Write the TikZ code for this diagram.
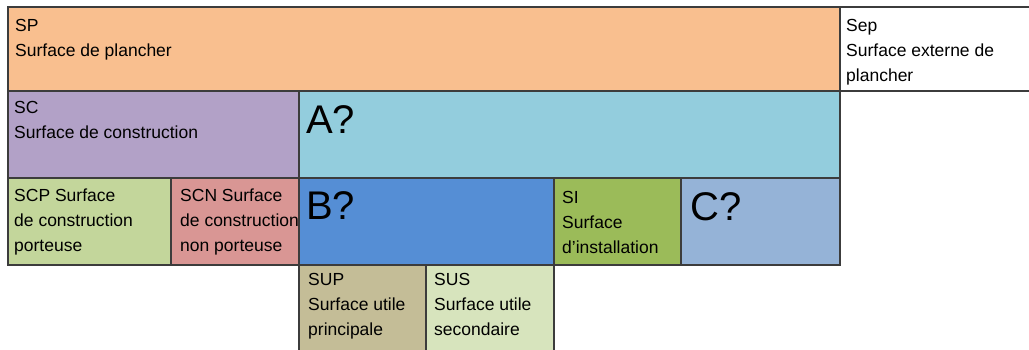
\documentclass[tikz,border=0pt]{standalone}
\usepackage{fontspec}
\setmainfont{Liberation Sans}
\definecolor{cSP}{HTML}{F9BF8F}
\definecolor{cSC}{HTML}{B2A1C7}
\definecolor{cA}{HTML}{93CDDD}
\definecolor{cB}{HTML}{558ED5}
\definecolor{cSI}{HTML}{9BBB59}
\definecolor{cC}{HTML}{95B3D7}
\definecolor{cSCP}{HTML}{C3D69B}
\definecolor{cSCN}{HTML}{D99694}
\definecolor{cSUP}{HTML}{C4BD97}
\definecolor{cSUS}{HTML}{D7E4BD}
\definecolor{edge}{HTML}{3C3C3C}
% stacked lines whose baseline is that of the first line
\newcommand\stk[1]{\begin{tabular}[t]{@{}l@{}}#1\end{tabular}}
\tikzset{
  area/.style={draw=edge, line width=1.5pt},
  lbl/.style={anchor=base west, inner sep=0pt,
    font=\fontsize{17.5}{25}\selectfont},
  big/.style={anchor=base west, inner sep=0pt,
    font=\fontsize{40}{40}\selectfont}
}
\begin{document}
\begin{tikzpicture}[x=1pt, y=-1pt]
\useasboundingbox (0,0) rectangle (1029,349);
\fill[white] (0,0) rectangle (1029,349);
\begin{scope}
\clip (0,0) rectangle (1029,349);
% surfaces, top row
\path[area, fill=cSP]  (8,7)   rectangle (840,91);
\path[area, fill=white] (840,7) rectangle (1040,91);
% second row
\path[area, fill=cSC]  (8,91)  rectangle (299,178);
\path[area, fill=cA]   (299,91) rectangle (840,178);
% third row
\path[area, fill=cSCP] (8,178) rectangle (171,265);
\path[area, fill=cSCN] (171,178) rectangle (299,265);
\path[area, fill=cB]   (299,178) rectangle (554,265);
\path[area, fill=cSI]  (554,178) rectangle (681,265);
\path[area, fill=cC]   (681,178) rectangle (840,265);
% fourth row
\path[area, fill=cSUP] (299,265) rectangle (426,360);
\path[area, fill=cSUS] (426,265) rectangle (554,360);
\end{scope}
% labels
\node[lbl] (tSP)  at (15,31)  {\stk{SP\\Surface de plancher}};
\node[lbl] (tSep) at (846,31) {\stk{Sep\\Surface externe de\\plancher}};
\node[lbl] (tSC)  at (14,113) {\stk{SC\\Surface de construction}};
\node[big] (tA)   at (306,133) {A?};
\node[lbl] (tSCP) at (14,201) {\stk{SCP Surface\\de construction\\porteuse}};
\node[lbl] (tSCN) at (180,201) {\stk{SCN Surface\\de construction\\non porteuse}};
\node[big] (tB)   at (306,219) {B?};
\node[lbl] (tSI)  at (562,203) {\stk{SI\\Surface\\d’installation}};
\node[big] (tC)   at (690,220) {C?};
\node[lbl] (tSUP) at (308,285) {\stk{SUP\\Surface utile\\principale}};
\node[lbl] (tSUS) at (434,285) {\stk{SUS\\Surface utile\\secondaire}};
\end{tikzpicture}
\end{document}
